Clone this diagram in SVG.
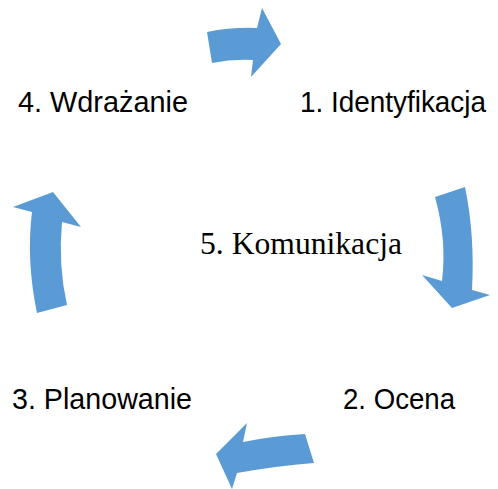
<svg xmlns="http://www.w3.org/2000/svg" width="498" height="489" viewBox="0 0 498 489">
<style>
.arr{fill:#5B9BD5;stroke:none}
.lbl{font-family:"Liberation Sans","Open Sans",sans-serif;font-size:29px;fill:#000}
.ctr{font-family:"Liberation Serif","Times New Roman",serif;font-size:32px;fill:#000}
</style>
<rect width="498" height="489" fill="#fff"/>
<g id="connectors">
<path class="arr" d="M207,32 Q232,27 257,28 L262,8 L281,44 L251,77 L253,60 Q232,59 212,63 Z"/>
<path class="arr" d="M465,187 Q475,235 472,290 L490,295 L452,308 L422,275 L442,281 Q447,240 435,197 Z"/>
<path class="arr" d="M305,434 Q272,436 243,442 L247,423 L216,454 L232,489 L237,473 Q276,466 314,463 Z"/>
<path class="arr" d="M37,313 Q26,260 32,212 L13,207 L53,192 L81,227 L62,222 Q58,265 67,305 Z"/>
</g>
<g id="node1"><text class="lbl" x="300" y="112" textLength="186" lengthAdjust="spacingAndGlyphs">1. Identyfikacja</text></g>
<g id="node2"><text class="lbl" x="343" y="409" textLength="112" lengthAdjust="spacingAndGlyphs">2. Ocena</text></g>
<g id="node3"><text class="lbl" x="12" y="409" textLength="180" lengthAdjust="spacingAndGlyphs">3. Planowanie</text></g>
<g id="node4"><text class="lbl" x="18" y="112" textLength="170" lengthAdjust="spacingAndGlyphs">4. Wdrażanie</text></g>
<g id="node5"><text class="ctr" x="200" y="254" textLength="202" lengthAdjust="spacingAndGlyphs">5. Komunikacja</text></g>
</svg>
